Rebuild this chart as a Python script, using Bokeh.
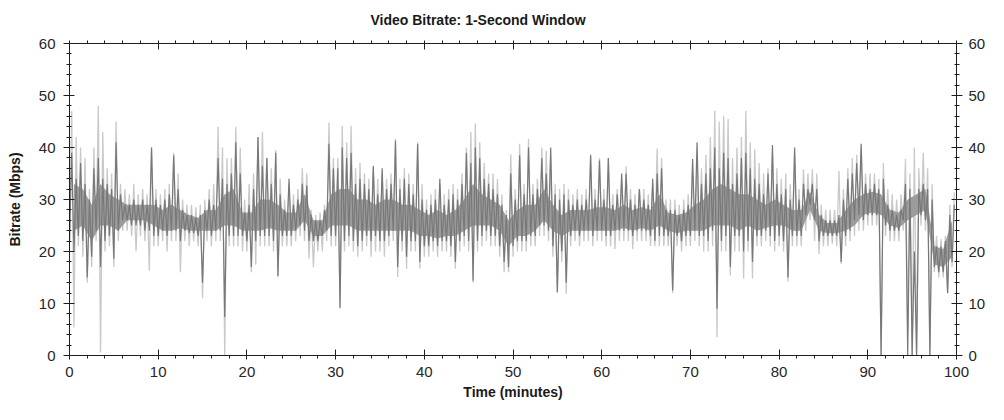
from bokeh.plotting import figure
from bokeh.models import Range1d, LinearAxis, SingleIntervalTicker, CustomLabelingPolicy
from bokeh.embed import file_html
from bokeh.resources import INLINE

TITLE = "Video Bitrate: 1-Second Window"
X_LABEL = "Time (minutes)"
Y_LABEL = "Bitrate (Mbps)"
BIN_MINUTES = 0.5  # each value pair covers half a minute

# dark series (bitrate) - low / high per half-minute, Mbps
DARK_HI = [
    39, 34, 37, 33, 30, 36, 38, 34, 33, 32,
    41, 31, 29, 29, 30, 29, 30, 29, 40, 30,
    29, 30, 31, 38.5, 32, 28, 27, 27, 26.5, 27,
    28, 30, 29, 38, 34, 33, 35, 41, 35, 27.5,
    29, 32, 42, 36.5, 38, 33, 39, 31, 28, 34,
    29, 30, 33, 32.7, 27, 26, 26, 28, 40.7, 36,
    36, 40, 38, 39, 33, 34, 33, 32, 36.5, 31,
    36, 32, 33, 41.3, 32, 34, 33, 31, 40.7, 30,
    28, 29, 30, 34, 29, 30, 31, 30, 33, 39,
    37, 40, 38, 34, 33, 32, 31, 29, 27, 35,
    30, 38.5, 31, 40, 31, 32, 38, 35, 40, 31,
    30, 31, 30, 29, 30, 29, 30, 38.5, 30, 37.5,
    30, 38, 29, 31, 35, 35, 30, 29, 32, 30,
    29, 34, 35, 36, 28, 28, 28, 27, 28, 29,
    37.8, 41, 33, 35, 36, 40, 36, 39, 38, 33,
    35, 38, 39, 36, 34, 33, 31, 35, 40.5, 33,
    31, 32, 30, 40, 30, 33, 32, 33, 32, 27,
    26, 26, 26, 27, 30, 34, 35, 37, 40.7, 33,
    32, 33, 32, 34, 29, 28, 27, 28, 33, 32,
    20, 32, 33, 32, 30, 21, 21, 22, 27, 29,
]
DARK_LO = [
    22, 20, 23, 22, 15, 19, 24, 17, 22, 23,
    18.6, 24, 26, 26, 25, 25, 25, 24, 24, 23,
    23, 24, 23, 24, 24, 22, 24, 23.5, 23.5, 23,
    14, 24, 23, 24, 24, 7.4, 23, 23, 23, 23,
    22, 17, 22, 23, 23, 23, 22, 15.3, 23, 23,
    23, 24, 25, 24, 22, 22, 22, 23, 24, 23,
    23, 9.2, 22, 23, 22, 21, 22, 23, 22, 23,
    22, 22, 23, 24, 17, 22, 19, 22, 22, 18,
    21, 21, 22, 21, 22, 22, 21, 18, 22, 23,
    22, 14.4, 22, 23, 24, 23, 23, 21, 18, 17,
    21, 22, 22, 22, 23, 23, 25, 25, 24, 21,
    12.2, 20, 14, 23, 24, 23, 24, 24, 23, 24,
    24, 23, 23, 24, 24, 24, 24, 23, 24, 24,
    24, 23, 22, 23, 23, 23, 12.5, 23, 22, 23,
    23, 24, 23, 23, 22, 24, 9, 22, 23, 17,
    23, 23, 20, 22, 18, 23, 23, 24, 23, 22,
    23, 22, 15, 23, 23, 23, 27, 29, 26, 22,
    23, 23, 23, 23, 18, 23, 24, 26, 27, 26,
    27, 27, 27, 0, 25, 24, 24, 24, 26, 0,
    0, 0, 27, 26, 0, 17, 16, 16, 12, 18,
]
# dense core of the dark series, one low / high pair per minute, Mbps
CORE_LO = [
    24, 25, 22, 25, 25, 24, 26, 26, 26, 25,
    24, 24, 24.5, 24, 24, 24, 24, 25, 25, 24,
    24, 24, 24.5, 24, 24, 24, 26, 23, 23, 25,
    25, 25, 24, 24, 24, 24, 24, 24, 24, 23,
    23, 22.5, 23, 23, 24, 25, 25, 25, 24, 21,
    23, 23, 24, 26, 24, 23, 24, 24, 24, 24,
    24, 24, 24.5, 24, 24.5, 24, 25, 24, 23.5, 24,
    24, 24, 25, 25, 25, 24, 25, 24, 24.5, 25,
    25, 24, 24, 28, 24, 23.5, 23.5, 24, 25, 27,
    27.5, 27, 25, 24.5, 26, 27, 28, 17.5, 17, 19,
]
CORE_HI = [
    33, 32, 29, 33, 31, 30, 29, 29, 29, 29,
    28, 29, 28, 27, 26.5, 28, 28, 31, 32, 27.5,
    27.5, 30, 30, 29, 27.5, 27.5, 31, 26, 26, 31,
    32, 32, 30, 30, 29, 30, 30, 29, 29, 28,
    27, 28, 27, 28, 30, 33, 31, 30, 29, 26,
    28, 29, 29, 32, 29, 27, 28, 28, 28, 28.5,
    28.5, 28, 29, 28, 28.5, 28, 31, 27.5, 27, 27.5,
    29, 30, 32, 33, 32, 31, 31, 30, 29, 30,
    29, 28, 28, 31.5, 27, 25.5, 25.5, 28, 30, 31,
    31.5, 31, 28, 27.5, 30, 31, 32, 21, 20.5, 26,
]
# light series (peaks) - low / high per half-minute, Mbps
LIGHT_HI = [
    47, 42, 40, 38, 32, 40, 48, 43, 36, 35,
    45, 33, 32, 31, 33, 31, 32, 31, 40, 32,
    31, 32, 33, 39, 35, 30, 29, 29, 28.5, 29,
    30, 32, 33, 44, 40, 38, 38, 44, 40, 30,
    33, 35, 42, 43, 38, 36, 39.5, 34, 30, 33,
    31, 32, 36, 35, 28, 27, 27.5, 29, 44.8, 38,
    38, 44.2, 41, 44.2, 36, 37, 35, 34, 36, 34,
    35, 34, 35, 41.7, 34, 36, 35, 33, 41, 33,
    30, 31, 32, 33, 31, 32, 33, 32, 35, 40,
    43, 44.6, 41, 37, 35, 35, 34, 31, 28, 38.7,
    32, 40.7, 33, 41.7, 33, 34, 40, 39.4, 38, 33,
    32, 33, 32, 31, 32, 31, 32, 38.7, 32, 38,
    32, 38, 31, 32, 34, 36.4, 32, 31, 32, 32,
    31, 33, 39.8, 38, 30, 30, 30, 29, 30, 31,
    36, 38, 36, 38.6, 42, 47.1, 45, 46, 45.5, 38,
    40, 42, 47, 41, 39.6, 37, 35, 36, 39, 36,
    34, 35, 33, 39, 32, 35.8, 35, 35.8, 35, 29,
    28, 28, 28, 35.5, 32, 36, 38, 38.6, 40, 35,
    35, 35, 34, 37, 32, 31, 30, 31, 37.8, 35,
    40, 36, 39, 36, 33, 23, 22.4, 23, 29, 31.4,
]
LIGHT_LO = [
    20, 5.4, 21, 19, 14, 17, 22, 0.6, 20, 21,
    17, 22, 24, 24, 23, 20, 23, 22, 16.3, 21,
    21, 22, 20, 22, 22, 16, 22, 21, 22, 21,
    11, 22, 21, 22, 22, 0, 21, 21, 21, 20,
    20, 16, 17.5, 21, 21, 21, 20, 15, 21, 21,
    21, 22, 23, 22, 18.6, 17, 20, 20, 22, 21,
    21, 9, 20, 21, 20, 19, 20, 21, 19, 20,
    20, 19, 21, 22, 15.1, 20, 16.7, 20, 20, 16.7,
    19, 19, 20, 19, 20, 20, 19, 16.7, 20, 21,
    20, 14, 20, 21, 22, 21, 21, 19, 16, 16,
    19, 20, 20, 20, 21, 21, 23, 23, 22, 19,
    12, 18, 11.9, 21, 22, 21, 22, 22, 21, 22,
    22, 21, 21, 20.5, 22, 22, 22, 20.5, 22, 22,
    22, 21, 21, 21, 21, 21, 12, 21, 20, 21,
    21, 22, 21, 20, 20, 21, 3.5, 20, 20, 15.4,
    20, 20, 14.8, 20, 14.8, 21, 21, 22, 21, 20,
    21, 20, 14.2, 21, 21, 21, 24, 26, 22, 19.5,
    21, 21, 21.5, 21, 17.6, 21, 22, 23, 24, 24,
    25, 25, 25, 0, 23, 22, 22, 22, 24, 5,
    0, 0, 25, 24, 0, 16, 15, 15, 12, 17,
]

xs, dark_y, light_y = [], [], []
for i in range(len(DARK_HI)):
    t = i * BIN_MINUTES
    xs += [t, t + BIN_MINUTES / 2]
    dark_y += [DARK_LO[i], DARK_HI[i]]
    light_y += [LIGHT_LO[i], LIGHT_HI[i]]
core_x = [m + 0.5 for m in range(len(CORE_LO))]

FONT = "Liberation Sans"
AX = "#1e1e1e"
DARK = "#787878"
CORE = "#9c9c9c"
LIGHT = "#c9c9c9"

p = figure(width=988, height=404, output_backend="svg", toolbar_location=None,
           x_range=Range1d(0, 100), y_range=Range1d(0, 60),
           min_border_left=69, min_border_right=29, min_border_top=43,
           min_border_bottom=49, background_fill_color="white",
           border_fill_color="white")
p.outline_line_color = None
p.grid.visible = False

p.title.text = TITLE
p.title.align = "left"
p.title.offset = 301
p.title.standoff = 0
p.title.text_font = FONT
p.title.text_font_style = "bold"
p.title.text_font_size = "14px"
p.title.text_color = "#1a1a1a"

p.line(xs, light_y, line_color=LIGHT, line_width=1.3)
p.varea(x=core_x, y1=CORE_LO, y2=CORE_HI, fill_color=CORE)
p.line(xs, dark_y, line_color=DARK, line_width=1.2)


def style(ax, tin, tout, min_in, min_out, standoff):
    ax.ticker = SingleIntervalTicker(interval=10, num_minor_ticks=5)
    ax.axis_line_color = AX
    ax.major_tick_line_color = AX
    ax.minor_tick_line_color = AX
    ax.major_tick_in = tin
    ax.major_tick_out = tout
    ax.minor_tick_in = min_in
    ax.minor_tick_out = min_out
    ax.major_label_standoff = standoff
    ax.major_label_text_font = FONT
    ax.major_label_text_font_size = "15px"
    ax.major_label_text_color = "#262626"
    ax.axis_label_text_font = FONT
    ax.axis_label_text_font_style = "bold"
    ax.axis_label_text_font_size = "14px"
    ax.axis_label_text_color = "#1a1a1a"


xa = p.xaxis[0]
style(xa, 6, 4, 0, 3, 7)
xa.axis_label = X_LABEL
xa.axis_label_standoff = 4

ya = p.yaxis[0]
style(ya, 5, 6, 2, 3, 8)
ya.axis_label = Y_LABEL
ya.axis_label_standoff = 13

ra = LinearAxis()
style(ra, 5, 6, 2, 3, 6)
p.add_layout(ra, "right")

ta = LinearAxis()
style(ta, 6, 0, 0, 3, 0)
ta.major_label_policy = CustomLabelingPolicy(
    code="for (const i of indices) { indices.unset(i) }\nreturn indices")
p.add_layout(ta, "above")

open("out.html", "w").write(file_html(p, INLINE))
